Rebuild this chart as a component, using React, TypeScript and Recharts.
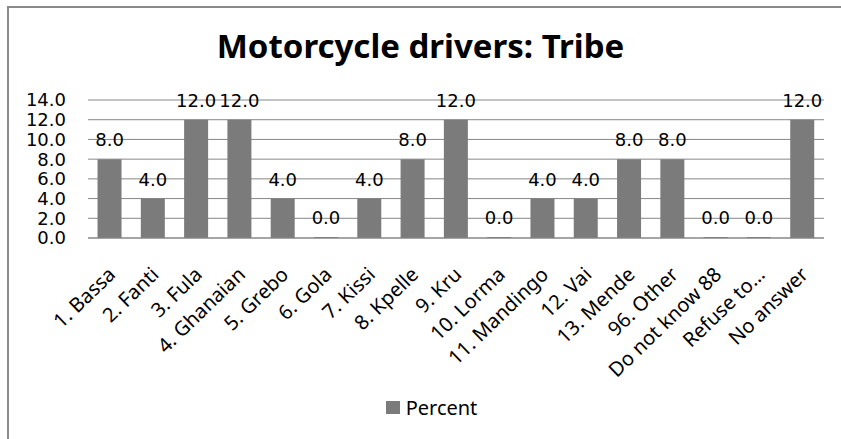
import React from "react";
import { BarChart, Bar, XAxis, YAxis, CartesianGrid, LabelList, Legend } from "recharts";

const categories = [
  "1. Bassa", "2. Fanti", "3. Fula", "4. Ghanaian", "5. Grebo", "6. Gola", "7. Kissi",
  "8. Kpelle", "9. Kru", "10. Lorma", "11. Mandingo", "12. Vai", "13. Mende",
  "96. Other", "Do not know 88", "Refuse to…", "No answer",
];
const percent = [8, 4, 12, 12, 4, 0, 4, 8, 12, 0, 4, 4, 8, 8, 0, 0, 12];
const yTicks = [0, 2, 4, 6, 8, 10, 12, 14];
const seriesName = "Percent";
const title = "Motorcycle drivers: Tribe";

const data = categories.map((c, i) => ({ name: c, value: percent[i] }));

const BAR = "#7b7b7b";
const GRID = "#878787";
const NUM_FONT = "DejaVu Sans";
const TXT_FONT = "Noto Sans";

const XTick = (props: any) => {
  const { x, y, payload } = props;
  return (
    <g transform={`translate(${x + 7},${y + 30})`}>
      <text
        x={0}
        y={0}
        textAnchor="end"
        transform="rotate(-44)"
        fontFamily={TXT_FONT}
        fontSize={20}
        fill="#000"
      >
        {payload.value}
      </text>
    </g>
  );
};

const LegendContent = () => (
  <div style={{ display: "flex", justifyContent: "center", alignItems: "center", fontFamily: TXT_FONT, fontSize: 20, color: "#000", paddingLeft: 22 }}>
    <span style={{ display: "inline-block", width: 14, height: 13, background: BAR, marginRight: 6 }} />
    <span>{seriesName}</span>
  </div>
);

export default function App() {
  return (
    <div style={{ position: "absolute", left: 0, top: 0, width: 841, height: 439, overflow: "hidden", background: "#fff" }}>
      <div
        style={{
          position: "absolute",
          left: 7,
          top: 6,
          width: 900,
          height: 500,
          borderTop: "2px solid #8a8a8a",
          borderLeft: "2px solid #8a8a8a",
        }}
      />
      <div
        style={{
          position: "absolute",
          left: 0,
          top: 24,
          width: 841,
          textAlign: "center",
          fontFamily: TXT_FONT,
          fontWeight: 700,
          fontSize: 33,
          color: "#000",
          lineHeight: "44px",
        }}
      >
        {title}
      </div>
      <div style={{ position: "absolute", left: 0, top: 0 }}>
        <BarChart
          width={841}
          height={439}
          data={data}
          margin={{ top: 100, right: 17, bottom: 61, left: 28 }}
          barCategoryGap="22%"
        >
          <CartesianGrid vertical={false} stroke={GRID} strokeWidth={1} />
          <XAxis
            dataKey="name"
            interval={0}
            tickLine={false}
            axisLine={{ stroke: GRID }}
            height={140}
            tick={<XTick />}
          />
          <YAxis
            domain={[0, 14]}
            ticks={yTicks}
            interval={0}
            axisLine={false}
            tickLine={false}
            tickSize={0}
            tickMargin={22}
            width={60}
            tickFormatter={(v: number) => v.toFixed(1)}
            tick={{ fontFamily: NUM_FONT, fontSize: 18, fill: "#000" }}
          />
          <Legend
            layout="horizontal"
            verticalAlign="middle"
            align="center"
            wrapperStyle={{ top: 394, left: 0, width: 841 }}
            content={<LegendContent />}
          />
          <Bar dataKey="value" name={seriesName} fill={BAR} minPointSize={1} isAnimationActive={false}>
            <LabelList
              dataKey="value"
              position="top"
              offset={13}
              formatter={(v: number) => v.toFixed(1)}
              style={{ fontFamily: NUM_FONT, fontSize: 18, fill: "#000" }}
            />
          </Bar>
        </BarChart>
      </div>
    </div>
  );
}
